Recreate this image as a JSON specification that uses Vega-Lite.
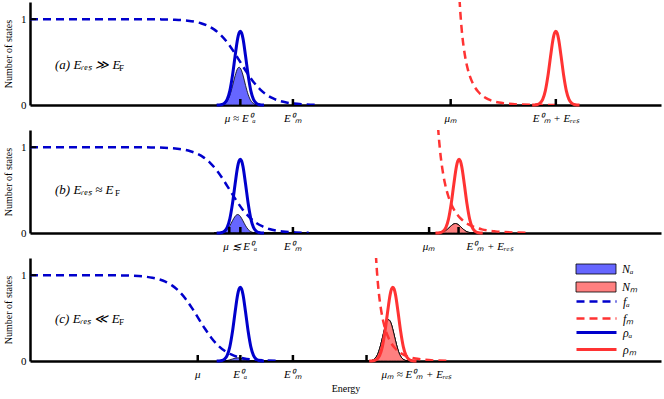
{
  "$schema": "https://vega.github.io/schema/vega-lite/v6.json",
  "padding": {"left": 3, "top": 2, "right": 3, "bottom": 2},
  "bounds": "flush",
  "spacing": 25,
  "config": {
    "view": {"stroke": null},
    "font": "Liberation Serif",
    "axis": {"grid": false, "domainColor": "black", "domainWidth": 2.5, "zindex": 1, "labelColor": "black", "titleColor": "black", "titleFontWeight": "normal", "labelFont": "Liberation Serif", "titleFont": "Liberation Serif"},
    "legend": {"padding": 0, "offset": 0, "labelFont": "Liberation Serif", "labelFontStyle": "italic", "labelFontSize": 12, "labelColor": "black", "labelOffset": 20, "rowPadding": 4}
  },
  "datasets": {
    "c": [
      {"p":"a","s":"fₐ","E":0,"v":1},{"p":"a","s":"fₐ","E":1.5,"v":1},{"p":"a","s":"fₐ","E":2,"v":0.9997},{"p":"a","s":"fₐ","E":2.5,"v":0.9975},{"p":"a","s":"fₐ","E":2.75,"v":0.9933},{"p":"a","s":"fₐ","E":3,"v":0.982},{"p":"a","s":"fₐ","E":3.125,"v":0.9707},{"p":"a","s":"fₐ","E":3.25,"v":0.9526},{"p":"a","s":"fₐ","E":3.375,"v":0.924},{"p":"a","s":"fₐ","E":3.5,"v":0.881},{"p":"a","s":"fₐ","E":3.625,"v":0.818},{"p":"a","s":"fₐ","E":3.75,"v":0.731},{"p":"a","s":"fₐ","E":3.875,"v":0.622},{"p":"a","s":"fₐ","E":4,"v":0.5},{"p":"a","s":"fₐ","E":4.125,"v":0.378},{"p":"a","s":"fₐ","E":4.25,"v":0.269},{"p":"a","s":"fₐ","E":4.375,"v":0.182},{"p":"a","s":"fₐ","E":4.5,"v":0.119},{"p":"a","s":"fₐ","E":4.625,"v":0.076},{"p":"a","s":"fₐ","E":4.75,"v":0.047},{"p":"a","s":"fₐ","E":4.875,"v":0.029},{"p":"a","s":"fₐ","E":5,"v":0.018},{"p":"a","s":"fₐ","E":5.25,"v":0.0067},{"p":"a","s":"fₐ","E":5.5,"v":0.0025},
      {"p":"b","s":"fₐ","E":0,"v":1},{"p":"b","s":"fₐ","E":1.3,"v":1},{"p":"b","s":"fₐ","E":1.8,"v":0.9997},{"p":"b","s":"fₐ","E":2.3,"v":0.9975},{"p":"b","s":"fₐ","E":2.55,"v":0.9933},{"p":"b","s":"fₐ","E":2.8,"v":0.982},{"p":"b","s":"fₐ","E":2.925,"v":0.9707},{"p":"b","s":"fₐ","E":3.05,"v":0.9526},{"p":"b","s":"fₐ","E":3.175,"v":0.924},{"p":"b","s":"fₐ","E":3.3,"v":0.881},{"p":"b","s":"fₐ","E":3.425,"v":0.818},{"p":"b","s":"fₐ","E":3.55,"v":0.731},{"p":"b","s":"fₐ","E":3.675,"v":0.622},{"p":"b","s":"fₐ","E":3.8,"v":0.5},{"p":"b","s":"fₐ","E":3.925,"v":0.378},{"p":"b","s":"fₐ","E":4.05,"v":0.269},{"p":"b","s":"fₐ","E":4.175,"v":0.182},{"p":"b","s":"fₐ","E":4.3,"v":0.119},{"p":"b","s":"fₐ","E":4.425,"v":0.076},{"p":"b","s":"fₐ","E":4.55,"v":0.047},{"p":"b","s":"fₐ","E":4.675,"v":0.029},{"p":"b","s":"fₐ","E":4.8,"v":0.018},{"p":"b","s":"fₐ","E":5.05,"v":0.0067},{"p":"b","s":"fₐ","E":5.3,"v":0.0025},
      {"p":"c","s":"fₐ","E":0,"v":1},{"p":"c","s":"fₐ","E":0.7,"v":1},{"p":"c","s":"fₐ","E":1.2,"v":0.9997},{"p":"c","s":"fₐ","E":1.7,"v":0.9975},{"p":"c","s":"fₐ","E":1.95,"v":0.9933},{"p":"c","s":"fₐ","E":2.2,"v":0.982},{"p":"c","s":"fₐ","E":2.325,"v":0.9707},{"p":"c","s":"fₐ","E":2.45,"v":0.9526},{"p":"c","s":"fₐ","E":2.575,"v":0.924},{"p":"c","s":"fₐ","E":2.7,"v":0.881},{"p":"c","s":"fₐ","E":2.825,"v":0.818},{"p":"c","s":"fₐ","E":2.95,"v":0.731},{"p":"c","s":"fₐ","E":3.075,"v":0.622},{"p":"c","s":"fₐ","E":3.2,"v":0.5},{"p":"c","s":"fₐ","E":3.325,"v":0.378},{"p":"c","s":"fₐ","E":3.45,"v":0.269},{"p":"c","s":"fₐ","E":3.575,"v":0.182},{"p":"c","s":"fₐ","E":3.7,"v":0.119},{"p":"c","s":"fₐ","E":3.825,"v":0.076},{"p":"c","s":"fₐ","E":3.95,"v":0.047},{"p":"c","s":"fₐ","E":4.075,"v":0.029},{"p":"c","s":"fₐ","E":4.2,"v":0.018},{"p":"c","s":"fₐ","E":4.45,"v":0.0067},{"p":"c","s":"fₐ","E":4.7,"v":0.0025},
      {"p":"a","s":"fₘ","E":8.145,"v":1.54},{"p":"a","s":"fₘ","E":8.17,"v":1.216},{"p":"a","s":"fₘ","E":8.195,"v":0.986},{"p":"a","s":"fₘ","E":8.22,"v":0.816},{"p":"a","s":"fₘ","E":8.245,"v":0.685},{"p":"a","s":"fₘ","E":8.27,"v":0.582},{"p":"a","s":"fₘ","E":8.32,"v":0.431},{"p":"a","s":"fₘ","E":8.37,"v":0.327},{"p":"a","s":"fₘ","E":8.42,"v":0.253},{"p":"a","s":"fₘ","E":8.47,"v":0.198},{"p":"a","s":"fₘ","E":8.52,"v":0.157},{"p":"a","s":"fₘ","E":8.62,"v":0.1},{"p":"a","s":"fₘ","E":8.72,"v":0.065},{"p":"a","s":"fₘ","E":8.82,"v":0.0425},{"p":"a","s":"fₘ","E":8.92,"v":0.028},{"p":"a","s":"fₘ","E":9.02,"v":0.019},{"p":"a","s":"fₘ","E":9.27,"v":0.0068},{"p":"a","s":"fₘ","E":9.52,"v":0.0025},{"p":"a","s":"fₘ","E":10.02,"v":0.0003},
      {"p":"b","s":"fₘ","E":7.73,"v":1.54},{"p":"b","s":"fₘ","E":7.762,"v":1.216},{"p":"b","s":"fₘ","E":7.794,"v":0.986},{"p":"b","s":"fₘ","E":7.826,"v":0.816},{"p":"b","s":"fₘ","E":7.858,"v":0.685},{"p":"b","s":"fₘ","E":7.89,"v":0.582},{"p":"b","s":"fₘ","E":7.954,"v":0.431},{"p":"b","s":"fₘ","E":8.018,"v":0.327},{"p":"b","s":"fₘ","E":8.082,"v":0.253},{"p":"b","s":"fₘ","E":8.146,"v":0.198},{"p":"b","s":"fₘ","E":8.21,"v":0.157},{"p":"b","s":"fₘ","E":8.338,"v":0.1},{"p":"b","s":"fₘ","E":8.466,"v":0.065},{"p":"b","s":"fₘ","E":8.594,"v":0.0425},{"p":"b","s":"fₘ","E":8.722,"v":0.028},{"p":"b","s":"fₘ","E":8.85,"v":0.019},{"p":"b","s":"fₘ","E":9.17,"v":0.0068},{"p":"b","s":"fₘ","E":9.49,"v":0.0025},
      {"p":"c","s":"fₘ","E":6.555,"v":1.54},{"p":"c","s":"fₘ","E":6.58,"v":1.216},{"p":"c","s":"fₘ","E":6.605,"v":0.986},{"p":"c","s":"fₘ","E":6.63,"v":0.816},{"p":"c","s":"fₘ","E":6.655,"v":0.685},{"p":"c","s":"fₘ","E":6.68,"v":0.582},{"p":"c","s":"fₘ","E":6.73,"v":0.431},{"p":"c","s":"fₘ","E":6.78,"v":0.327},{"p":"c","s":"fₘ","E":6.83,"v":0.253},{"p":"c","s":"fₘ","E":6.88,"v":0.198},{"p":"c","s":"fₘ","E":6.93,"v":0.157},{"p":"c","s":"fₘ","E":7.03,"v":0.1},{"p":"c","s":"fₘ","E":7.13,"v":0.065},{"p":"c","s":"fₘ","E":7.23,"v":0.0425},{"p":"c","s":"fₘ","E":7.33,"v":0.028},{"p":"c","s":"fₘ","E":7.43,"v":0.019},{"p":"c","s":"fₘ","E":7.68,"v":0.0068},{"p":"c","s":"fₘ","E":7.93,"v":0.0025},
      {"p":"a","s":"ρₐ","E":3.55,"v":0},{"p":"a","s":"ρₐ","E":3.6,"v":0.001},{"p":"a","s":"ρₐ","E":3.65,"v":0.006},{"p":"a","s":"ρₐ","E":3.7,"v":0.021},{"p":"a","s":"ρₐ","E":3.75,"v":0.065},{"p":"a","s":"ρₐ","E":3.8,"v":0.164},{"p":"a","s":"ρₐ","E":3.85,"v":0.34},{"p":"a","s":"ρₐ","E":3.9,"v":0.568},{"p":"a","s":"ρₐ","E":3.95,"v":0.776},{"p":"a","s":"ρₐ","E":3.975,"v":0.838},{"p":"a","s":"ρₐ","E":4,"v":0.86},{"p":"a","s":"ρₐ","E":4.025,"v":0.838},{"p":"a","s":"ρₐ","E":4.05,"v":0.776},{"p":"a","s":"ρₐ","E":4.1,"v":0.568},{"p":"a","s":"ρₐ","E":4.15,"v":0.34},{"p":"a","s":"ρₐ","E":4.2,"v":0.164},{"p":"a","s":"ρₐ","E":4.25,"v":0.065},{"p":"a","s":"ρₐ","E":4.3,"v":0.021},{"p":"a","s":"ρₐ","E":4.35,"v":0.006},{"p":"a","s":"ρₐ","E":4.4,"v":0.001},{"p":"a","s":"ρₐ","E":4.45,"v":0},
      {"p":"b","s":"ρₐ","E":3.55,"v":0},{"p":"b","s":"ρₐ","E":3.6,"v":0.001},{"p":"b","s":"ρₐ","E":3.65,"v":0.006},{"p":"b","s":"ρₐ","E":3.7,"v":0.021},{"p":"b","s":"ρₐ","E":3.75,"v":0.065},{"p":"b","s":"ρₐ","E":3.8,"v":0.164},{"p":"b","s":"ρₐ","E":3.85,"v":0.34},{"p":"b","s":"ρₐ","E":3.9,"v":0.568},{"p":"b","s":"ρₐ","E":3.95,"v":0.776},{"p":"b","s":"ρₐ","E":3.975,"v":0.838},{"p":"b","s":"ρₐ","E":4,"v":0.86},{"p":"b","s":"ρₐ","E":4.025,"v":0.838},{"p":"b","s":"ρₐ","E":4.05,"v":0.776},{"p":"b","s":"ρₐ","E":4.1,"v":0.568},{"p":"b","s":"ρₐ","E":4.15,"v":0.34},{"p":"b","s":"ρₐ","E":4.2,"v":0.164},{"p":"b","s":"ρₐ","E":4.25,"v":0.065},{"p":"b","s":"ρₐ","E":4.3,"v":0.021},{"p":"b","s":"ρₐ","E":4.35,"v":0.006},{"p":"b","s":"ρₐ","E":4.4,"v":0.001},{"p":"b","s":"ρₐ","E":4.45,"v":0},
      {"p":"c","s":"ρₐ","E":3.55,"v":0},{"p":"c","s":"ρₐ","E":3.6,"v":0.001},{"p":"c","s":"ρₐ","E":3.65,"v":0.006},{"p":"c","s":"ρₐ","E":3.7,"v":0.021},{"p":"c","s":"ρₐ","E":3.75,"v":0.065},{"p":"c","s":"ρₐ","E":3.8,"v":0.164},{"p":"c","s":"ρₐ","E":3.85,"v":0.34},{"p":"c","s":"ρₐ","E":3.9,"v":0.568},{"p":"c","s":"ρₐ","E":3.95,"v":0.776},{"p":"c","s":"ρₐ","E":3.975,"v":0.838},{"p":"c","s":"ρₐ","E":4,"v":0.86},{"p":"c","s":"ρₐ","E":4.025,"v":0.838},{"p":"c","s":"ρₐ","E":4.05,"v":0.776},{"p":"c","s":"ρₐ","E":4.1,"v":0.568},{"p":"c","s":"ρₐ","E":4.15,"v":0.34},{"p":"c","s":"ρₐ","E":4.2,"v":0.164},{"p":"c","s":"ρₐ","E":4.25,"v":0.065},{"p":"c","s":"ρₐ","E":4.3,"v":0.021},{"p":"c","s":"ρₐ","E":4.35,"v":0.006},{"p":"c","s":"ρₐ","E":4.4,"v":0.001},{"p":"c","s":"ρₐ","E":4.45,"v":0},
      {"p":"a","s":"ρₘ","E":9.55,"v":0},{"p":"a","s":"ρₘ","E":9.6,"v":0.001},{"p":"a","s":"ρₘ","E":9.65,"v":0.006},{"p":"a","s":"ρₘ","E":9.7,"v":0.021},{"p":"a","s":"ρₘ","E":9.75,"v":0.065},{"p":"a","s":"ρₘ","E":9.8,"v":0.164},{"p":"a","s":"ρₘ","E":9.85,"v":0.34},{"p":"a","s":"ρₘ","E":9.9,"v":0.568},{"p":"a","s":"ρₘ","E":9.95,"v":0.776},{"p":"a","s":"ρₘ","E":9.975,"v":0.838},{"p":"a","s":"ρₘ","E":10,"v":0.86},{"p":"a","s":"ρₘ","E":10.025,"v":0.838},{"p":"a","s":"ρₘ","E":10.05,"v":0.776},{"p":"a","s":"ρₘ","E":10.1,"v":0.568},{"p":"a","s":"ρₘ","E":10.15,"v":0.34},{"p":"a","s":"ρₘ","E":10.2,"v":0.164},{"p":"a","s":"ρₘ","E":10.25,"v":0.065},{"p":"a","s":"ρₘ","E":10.3,"v":0.021},{"p":"a","s":"ρₘ","E":10.35,"v":0.006},{"p":"a","s":"ρₘ","E":10.4,"v":0.001},{"p":"a","s":"ρₘ","E":10.45,"v":0},
      {"p":"b","s":"ρₘ","E":7.71,"v":0},{"p":"b","s":"ρₘ","E":7.76,"v":0.001},{"p":"b","s":"ρₘ","E":7.81,"v":0.006},{"p":"b","s":"ρₘ","E":7.86,"v":0.021},{"p":"b","s":"ρₘ","E":7.91,"v":0.065},{"p":"b","s":"ρₘ","E":7.96,"v":0.164},{"p":"b","s":"ρₘ","E":8.01,"v":0.34},{"p":"b","s":"ρₘ","E":8.06,"v":0.568},{"p":"b","s":"ρₘ","E":8.11,"v":0.776},{"p":"b","s":"ρₘ","E":8.135,"v":0.838},{"p":"b","s":"ρₘ","E":8.16,"v":0.86},{"p":"b","s":"ρₘ","E":8.185,"v":0.838},{"p":"b","s":"ρₘ","E":8.21,"v":0.776},{"p":"b","s":"ρₘ","E":8.26,"v":0.568},{"p":"b","s":"ρₘ","E":8.31,"v":0.34},{"p":"b","s":"ρₘ","E":8.36,"v":0.164},{"p":"b","s":"ρₘ","E":8.41,"v":0.065},{"p":"b","s":"ρₘ","E":8.46,"v":0.021},{"p":"b","s":"ρₘ","E":8.51,"v":0.006},{"p":"b","s":"ρₘ","E":8.56,"v":0.001},{"p":"b","s":"ρₘ","E":8.61,"v":0},
      {"p":"c","s":"ρₘ","E":6.45,"v":0},{"p":"c","s":"ρₘ","E":6.5,"v":0.001},{"p":"c","s":"ρₘ","E":6.55,"v":0.006},{"p":"c","s":"ρₘ","E":6.6,"v":0.021},{"p":"c","s":"ρₘ","E":6.65,"v":0.065},{"p":"c","s":"ρₘ","E":6.7,"v":0.164},{"p":"c","s":"ρₘ","E":6.75,"v":0.34},{"p":"c","s":"ρₘ","E":6.8,"v":0.568},{"p":"c","s":"ρₘ","E":6.85,"v":0.776},{"p":"c","s":"ρₘ","E":6.875,"v":0.838},{"p":"c","s":"ρₘ","E":6.9,"v":0.86},{"p":"c","s":"ρₘ","E":6.925,"v":0.838},{"p":"c","s":"ρₘ","E":6.95,"v":0.776},{"p":"c","s":"ρₘ","E":7,"v":0.568},{"p":"c","s":"ρₘ","E":7.05,"v":0.34},{"p":"c","s":"ρₘ","E":7.1,"v":0.164},{"p":"c","s":"ρₘ","E":7.15,"v":0.065},{"p":"c","s":"ρₘ","E":7.2,"v":0.021},{"p":"c","s":"ρₘ","E":7.25,"v":0.006},{"p":"c","s":"ρₘ","E":7.3,"v":0.001},{"p":"c","s":"ρₘ","E":7.35,"v":0},
      {"p":"a","s":"Nₐ","E":3.55,"v":0},{"p":"a","s":"Nₐ","E":3.6,"v":0.001},{"p":"a","s":"Nₐ","E":3.65,"v":0.0044},{"p":"a","s":"Nₐ","E":3.7,"v":0.016},{"p":"a","s":"Nₐ","E":3.75,"v":0.0475},{"p":"a","s":"Nₐ","E":3.8,"v":0.113},{"p":"a","s":"Nₐ","E":3.85,"v":0.22},{"p":"a","s":"Nₐ","E":3.9,"v":0.34},{"p":"a","s":"Nₐ","E":3.95,"v":0.427},{"p":"a","s":"Nₐ","E":3.975,"v":0.44},{"p":"a","s":"Nₐ","E":4,"v":0.43},{"p":"a","s":"Nₐ","E":4.025,"v":0.398},{"p":"a","s":"Nₐ","E":4.05,"v":0.349},{"p":"a","s":"Nₐ","E":4.1,"v":0.228},{"p":"a","s":"Nₐ","E":4.15,"v":0.12},{"p":"a","s":"Nₐ","E":4.2,"v":0.051},{"p":"a","s":"Nₐ","E":4.25,"v":0.0175},{"p":"a","s":"Nₐ","E":4.3,"v":0.0049},{"p":"a","s":"Nₐ","E":4.35,"v":0.0011},{"p":"a","s":"Nₐ","E":4.4,"v":0},
      {"p":"b","s":"Nₐ","E":3.5,"v":0},{"p":"b","s":"Nₐ","E":3.55,"v":0.0003},{"p":"b","s":"Nₐ","E":3.6,"v":0.0014},{"p":"b","s":"Nₐ","E":3.65,"v":0.005},{"p":"b","s":"Nₐ","E":3.7,"v":0.016},{"p":"b","s":"Nₐ","E":3.75,"v":0.041},{"p":"b","s":"Nₐ","E":3.8,"v":0.085},{"p":"b","s":"Nₐ","E":3.85,"v":0.142},{"p":"b","s":"Nₐ","E":3.9,"v":0.194},{"p":"b","s":"Nₐ","E":3.925,"v":0.2095},{"p":"b","s":"Nₐ","E":3.95,"v":0.215},{"p":"b","s":"Nₐ","E":3.975,"v":0.2095},{"p":"b","s":"Nₐ","E":4,"v":0.194},{"p":"b","s":"Nₐ","E":4.05,"v":0.142},{"p":"b","s":"Nₐ","E":4.1,"v":0.085},{"p":"b","s":"Nₐ","E":4.15,"v":0.041},{"p":"b","s":"Nₐ","E":4.2,"v":0.016},{"p":"b","s":"Nₐ","E":4.25,"v":0.005},{"p":"b","s":"Nₐ","E":4.3,"v":0.0014},{"p":"b","s":"Nₐ","E":4.35,"v":0.0003},{"p":"b","s":"Nₐ","E":4.4,"v":0},
      {"p":"c","s":"Nₐ","E":3.6,"v":0},{"p":"c","s":"Nₐ","E":3.65,"v":0.0008},{"p":"c","s":"Nₐ","E":3.7,"v":0.0025},{"p":"c","s":"Nₐ","E":3.75,"v":0.0065},{"p":"c","s":"Nₐ","E":3.8,"v":0.0136},{"p":"c","s":"Nₐ","E":3.85,"v":0.0235},{"p":"c","s":"Nₐ","E":3.9,"v":0.0326},{"p":"c","s":"Nₐ","E":3.95,"v":0.0368},{"p":"c","s":"Nₐ","E":4,"v":0.0337},{"p":"c","s":"Nₐ","E":4.05,"v":0.0249},{"p":"c","s":"Nₐ","E":4.1,"v":0.0151},{"p":"c","s":"Nₐ","E":4.15,"v":0.0074},{"p":"c","s":"Nₐ","E":4.2,"v":0.003},{"p":"c","s":"Nₐ","E":4.25,"v":0.001},{"p":"c","s":"Nₐ","E":4.3,"v":0},
      {"p":"b","s":"Nₘ","E":7.69,"v":0},{"p":"b","s":"Nₘ","E":7.74,"v":0.0007},{"p":"b","s":"Nₘ","E":7.79,"v":0.0027},{"p":"b","s":"Nₘ","E":7.84,"v":0.0083},{"p":"b","s":"Nₘ","E":7.89,"v":0.021},{"p":"b","s":"Nₘ","E":7.94,"v":0.0435},{"p":"b","s":"Nₘ","E":7.99,"v":0.073},{"p":"b","s":"Nₘ","E":8.04,"v":0.099},{"p":"b","s":"Nₘ","E":8.09,"v":0.11},{"p":"b","s":"Nₘ","E":8.14,"v":0.099},{"p":"b","s":"Nₘ","E":8.19,"v":0.073},{"p":"b","s":"Nₘ","E":8.24,"v":0.0435},{"p":"b","s":"Nₘ","E":8.29,"v":0.021},{"p":"b","s":"Nₘ","E":8.34,"v":0.0083},{"p":"b","s":"Nₘ","E":8.39,"v":0.0027},{"p":"b","s":"Nₘ","E":8.44,"v":0.0007},{"p":"b","s":"Nₘ","E":8.49,"v":0},
      {"p":"c","s":"Nₘ","E":6.41,"v":0},{"p":"c","s":"Nₘ","E":6.42,"v":0.0007},{"p":"c","s":"Nₘ","E":6.47,"v":0.0031},{"p":"c","s":"Nₘ","E":6.52,"v":0.0117},{"p":"c","s":"Nₘ","E":6.57,"v":0.036},{"p":"c","s":"Nₘ","E":6.62,"v":0.0915},{"p":"c","s":"Nₘ","E":6.67,"v":0.19},{"p":"c","s":"Nₘ","E":6.72,"v":0.317},{"p":"c","s":"Nₘ","E":6.77,"v":0.433},{"p":"c","s":"Nₘ","E":6.795,"v":0.468},{"p":"c","s":"Nₘ","E":6.82,"v":0.48},{"p":"c","s":"Nₘ","E":6.845,"v":0.468},{"p":"c","s":"Nₘ","E":6.87,"v":0.433},{"p":"c","s":"Nₘ","E":6.92,"v":0.317},{"p":"c","s":"Nₘ","E":6.97,"v":0.19},{"p":"c","s":"Nₘ","E":7.02,"v":0.0915},{"p":"c","s":"Nₘ","E":7.07,"v":0.036},{"p":"c","s":"Nₘ","E":7.12,"v":0.0117},{"p":"c","s":"Nₘ","E":7.17,"v":0.0031},{"p":"c","s":"Nₘ","E":7.22,"v":0.0007},{"p":"c","s":"Nₘ","E":7.27,"v":0}
    ],
    "tk": [
      {"p":"a","E":4},{"p":"a","E":5},{"p":"a","E":8},{"p":"a","E":10},
      {"p":"b","E":3.79},{"p":"b","E":4},{"p":"b","E":5},{"p":"b","E":7.59},{"p":"b","E":8.15},
      {"p":"c","E":3.19},{"p":"c","E":4},{"p":"c","E":5},{"p":"c","E":6.4}
    ],
    "lb": [
      {"p":"a","E":4,"t":"μ ≈ E⁰ₐ"},{"p":"a","E":5,"t":"E⁰ₘ"},{"p":"a","E":8,"t":"μₘ"},{"p":"a","E":10,"t":"E⁰ₘ + Eᵣₑₛ"},
      {"p":"b","E":4,"t":"μ ≲ E⁰ₐ"},{"p":"b","E":5,"t":"E⁰ₘ"},{"p":"b","E":7.59,"t":"μₘ"},{"p":"b","E":8.74,"t":"E⁰ₘ + Eᵣₑₛ"},
      {"p":"c","E":3.19,"t":"μ"},{"p":"c","E":4,"t":"E⁰ₐ"},{"p":"c","E":5,"t":"E⁰ₘ"},{"p":"c","E":7.35,"t":"μₘ ≈ E⁰ₘ + Eᵣₑₛ"}
    ],
    "pl": [
      {"p":"a","E":0.475,"v":0.47,"t":"(a) Eᵣₑₛ ≫ E"},
      {"p":"b","E":0.475,"v":0.5,"t":"(b) Eᵣₑₛ ≈ E"},
      {"p":"c","E":0.475,"v":0.49,"t":"(c) Eᵣₑₛ ≪ E"}
    ],
    "yt": [{"v":1}]
  },
  "vconcat": [
    {
      "width": 631, "height": 103,
      "layer": [
        {"data": {"name": "c"}, "transform": [{"filter": {"and": [{"field":"p","equal":"a"},{"field":"s","oneOf":["Nₐ","Nₘ"]}]}}],
         "mark": {"type":"area","interpolate":"monotone","stroke":"black","strokeWidth":0.8,"opacity":1},
         "encoding": {
           "x": {"field":"E","type":"quantitative","scale":{"domain":[0,12],"nice":false},"axis":{"labels":false,"ticks":false,"title":null}},
           "y": {"field":"v","type":"quantitative","scale":{"domain":[0,1.2],"nice":false},"axis":{"values":[0,1],"format":"d","ticks":false,"labelFontSize":11,"labelPadding":4,"title":"Number of states","titleFontSize":10,"titlePadding":7}},
           "fill": {"field":"s","type":"nominal","scale":{"domain":["Nₐ","Nₘ"],"range":["#6666ff","#ff8080"]},"legend":{"orient":"none","legendX":560,"legendY":261,"title":null,"symbolType":"M-4,-1H4V1H-4Z","symbolSize":100,"symbolStrokeColor":"black","symbolStrokeWidth":0.8,"symbolOpacity":1}}
         }},
        {"data": {"name": "c"}, "transform": [{"filter": {"and": [{"field":"p","equal":"a"},{"field":"s","oneOf":["fₐ","fₘ"]}]}}],
         "mark": {"type":"line","interpolate":"monotone","strokeWidth":2.5,"strokeDash":[8,5],"clip":true},
         "encoding": {
           "x": {"field":"E","type":"quantitative"},
           "y": {"field":"v","type":"quantitative"},
           "stroke": {"field":"s","type":"nominal","scale":{"domain":["fₐ","fₘ"],"range":["#0000cc","#ff3333"]},"legend":{"orient":"none","legendX":560,"legendY":293,"title":null,"symbolType":"M-4,0H4","symbolSize":100,"symbolStrokeWidth":2.5,"symbolDash":[8,5],"symbolFillColor":"transparent"}}
         }},
        {"data": {"name": "c"}, "transform": [{"filter": {"and": [{"field":"p","equal":"a"},{"field":"s","oneOf":["ρₐ","ρₘ"]}]}}],
         "mark": {"type":"line","interpolate":"monotone","strokeWidth":3},
         "encoding": {
           "x": {"field":"E","type":"quantitative"},
           "y": {"field":"v","type":"quantitative"},
           "color": {"field":"s","type":"nominal","scale":{"domain":["ρₐ","ρₘ"],"range":["#0000cc","#ff3333"]},"legend":{"orient":"none","legendX":560,"legendY":324,"title":null,"symbolType":"M-4,0H4","symbolSize":100,"symbolStrokeWidth":3,"symbolFillColor":"transparent"}}
         }},
        {"data": {"name": "tk"}, "transform": [{"filter": {"field":"p","equal":"a"}}],
         "mark": {"type":"rule","color":"black","strokeWidth":2.5},
         "encoding": {"x": {"field":"E","type":"quantitative"}, "y": {"datum": 0}, "y2": {"datum": 0.07}}},
        {"data": {"name": "lb"}, "transform": [{"filter": {"field":"p","equal":"a"}}],
         "mark": {"type":"text","fontSize":11,"fontStyle":"italic","baseline":"middle","dy":14,"color":"black"},
         "encoding": {"x": {"field":"E","type":"quantitative"}, "y": {"datum": 0}, "text": {"field":"t"}}},
        {"data": {"name": "yt"},
         "mark": {"type":"rule","color":"black","strokeWidth":2},
         "encoding": {"x": {"datum": 0}, "x2": {"datum": 0.12}, "y": {"field":"v","type":"quantitative"}}},
        {"data": {"name": "pl"}, "transform": [{"filter": {"field":"p","equal":"a"}}],
         "mark": {"type":"text","fontSize":13,"fontStyle":"italic","align":"left","baseline":"middle","color":"black"},
         "encoding": {"x": {"field":"E","type":"quantitative"}, "y": {"field":"v","type":"quantitative"}, "text": {"field":"t"}}},
        {"data": {"name": "pl"}, "transform": [{"filter": {"field":"p","equal":"a"}}],
         "mark": {"type":"text","fontSize":9,"align":"left","baseline":"middle","dx":64,"dy":3,"color":"black","text":"F"},
         "encoding": {"x": {"field":"E","type":"quantitative"}, "y": {"field":"v","type":"quantitative"}}}
      ]
    },
    {
      "width": 631, "height": 103,
      "layer": [
        {"data": {"name": "c"}, "transform": [{"filter": {"and": [{"field":"p","equal":"b"},{"field":"s","oneOf":["Nₐ","Nₘ"]}]}}],
         "mark": {"type":"area","interpolate":"monotone","stroke":"black","strokeWidth":0.8,"opacity":1},
         "encoding": {
           "x": {"field":"E","type":"quantitative","scale":{"domain":[0,12],"nice":false},"axis":{"labels":false,"ticks":false,"title":null}},
           "y": {"field":"v","type":"quantitative","scale":{"domain":[0,1.2],"nice":false},"axis":{"values":[0,1],"format":"d","ticks":false,"labelFontSize":11,"labelPadding":4,"title":"Number of states","titleFontSize":10,"titlePadding":7}},
           "fill": {"field":"s","type":"nominal","scale":{"domain":["Nₐ","Nₘ"],"range":["#6666ff","#ff8080"]},"legend":{"orient":"none","legendX":560,"legendY":261,"title":null,"symbolType":"M-4,-1H4V1H-4Z","symbolSize":100,"symbolStrokeColor":"black","symbolStrokeWidth":0.8,"symbolOpacity":1}}
         }},
        {"data": {"name": "c"}, "transform": [{"filter": {"and": [{"field":"p","equal":"b"},{"field":"s","oneOf":["fₐ","fₘ"]}]}}],
         "mark": {"type":"line","interpolate":"monotone","strokeWidth":2.5,"strokeDash":[8,5],"clip":true},
         "encoding": {
           "x": {"field":"E","type":"quantitative"},
           "y": {"field":"v","type":"quantitative"},
           "stroke": {"field":"s","type":"nominal","scale":{"domain":["fₐ","fₘ"],"range":["#0000cc","#ff3333"]},"legend":{"orient":"none","legendX":560,"legendY":293,"title":null,"symbolType":"M-4,0H4","symbolSize":100,"symbolStrokeWidth":2.5,"symbolDash":[8,5],"symbolFillColor":"transparent"}}
         }},
        {"data": {"name": "c"}, "transform": [{"filter": {"and": [{"field":"p","equal":"b"},{"field":"s","oneOf":["ρₐ","ρₘ"]}]}}],
         "mark": {"type":"line","interpolate":"monotone","strokeWidth":3},
         "encoding": {
           "x": {"field":"E","type":"quantitative"},
           "y": {"field":"v","type":"quantitative"},
           "color": {"field":"s","type":"nominal","scale":{"domain":["ρₐ","ρₘ"],"range":["#0000cc","#ff3333"]},"legend":{"orient":"none","legendX":560,"legendY":324,"title":null,"symbolType":"M-4,0H4","symbolSize":100,"symbolStrokeWidth":3,"symbolFillColor":"transparent"}}
         }},
        {"data": {"name": "tk"}, "transform": [{"filter": {"field":"p","equal":"b"}}],
         "mark": {"type":"rule","color":"black","strokeWidth":2.5},
         "encoding": {"x": {"field":"E","type":"quantitative"}, "y": {"datum": 0}, "y2": {"datum": 0.07}}},
        {"data": {"name": "lb"}, "transform": [{"filter": {"field":"p","equal":"b"}}],
         "mark": {"type":"text","fontSize":11,"fontStyle":"italic","baseline":"middle","dy":14,"color":"black"},
         "encoding": {"x": {"field":"E","type":"quantitative"}, "y": {"datum": 0}, "text": {"field":"t"}}},
        {"data": {"name": "yt"},
         "mark": {"type":"rule","color":"black","strokeWidth":2},
         "encoding": {"x": {"datum": 0}, "x2": {"datum": 0.12}, "y": {"field":"v","type":"quantitative"}}},
        {"data": {"name": "pl"}, "transform": [{"filter": {"field":"p","equal":"b"}}],
         "mark": {"type":"text","fontSize":13,"fontStyle":"italic","align":"left","baseline":"middle","color":"black"},
         "encoding": {"x": {"field":"E","type":"quantitative"}, "y": {"field":"v","type":"quantitative"}, "text": {"field":"t"}}},
        {"data": {"name": "pl"}, "transform": [{"filter": {"field":"p","equal":"b"}}],
         "mark": {"type":"text","fontSize":9,"align":"left","baseline":"middle","dx":60,"dy":3,"color":"black","text":"F"},
         "encoding": {"x": {"field":"E","type":"quantitative"}, "y": {"field":"v","type":"quantitative"}}}
      ]
    },
    {
      "width": 631, "height": 103,
      "layer": [
        {"data": {"name": "c"}, "transform": [{"filter": {"and": [{"field":"p","equal":"c"},{"field":"s","oneOf":["Nₐ","Nₘ"]}]}}],
         "mark": {"type":"area","interpolate":"monotone","stroke":"black","strokeWidth":0.8,"opacity":1},
         "encoding": {
           "x": {"field":"E","type":"quantitative","scale":{"domain":[0,12],"nice":false},"axis":{"labels":false,"ticks":false,"title":"Energy","titleFontSize":10,"titlePadding":22}},
           "y": {"field":"v","type":"quantitative","scale":{"domain":[0,1.2],"nice":false},"axis":{"values":[0,1],"format":"d","ticks":false,"labelFontSize":11,"labelPadding":4,"title":"Number of states","titleFontSize":10,"titlePadding":7}},
           "fill": {"field":"s","type":"nominal","scale":{"domain":["Nₐ","Nₘ"],"range":["#6666ff","#ff8080"]},"legend":{"orient":"none","legendX":560,"legendY":261,"title":null,"symbolType":"M-4,-1H4V1H-4Z","symbolSize":100,"symbolStrokeColor":"black","symbolStrokeWidth":0.8,"symbolOpacity":1}}
         }},
        {"data": {"name": "c"}, "transform": [{"filter": {"and": [{"field":"p","equal":"c"},{"field":"s","oneOf":["fₐ","fₘ"]}]}}],
         "mark": {"type":"line","interpolate":"monotone","strokeWidth":2.5,"strokeDash":[8,5],"clip":true},
         "encoding": {
           "x": {"field":"E","type":"quantitative"},
           "y": {"field":"v","type":"quantitative"},
           "stroke": {"field":"s","type":"nominal","scale":{"domain":["fₐ","fₘ"],"range":["#0000cc","#ff3333"]},"legend":{"orient":"none","legendX":560,"legendY":293,"title":null,"symbolType":"M-4,0H4","symbolSize":100,"symbolStrokeWidth":2.5,"symbolDash":[8,5],"symbolFillColor":"transparent"}}
         }},
        {"data": {"name": "c"}, "transform": [{"filter": {"and": [{"field":"p","equal":"c"},{"field":"s","oneOf":["ρₐ","ρₘ"]}]}}],
         "mark": {"type":"line","interpolate":"monotone","strokeWidth":3},
         "encoding": {
           "x": {"field":"E","type":"quantitative"},
           "y": {"field":"v","type":"quantitative"},
           "color": {"field":"s","type":"nominal","scale":{"domain":["ρₐ","ρₘ"],"range":["#0000cc","#ff3333"]},"legend":{"orient":"none","legendX":560,"legendY":324,"title":null,"symbolType":"M-4,0H4","symbolSize":100,"symbolStrokeWidth":3,"symbolFillColor":"transparent"}}
         }},
        {"data": {"name": "tk"}, "transform": [{"filter": {"field":"p","equal":"c"}}],
         "mark": {"type":"rule","color":"black","strokeWidth":2.5},
         "encoding": {"x": {"field":"E","type":"quantitative"}, "y": {"datum": 0}, "y2": {"datum": 0.07}}},
        {"data": {"name": "lb"}, "transform": [{"filter": {"field":"p","equal":"c"}}],
         "mark": {"type":"text","fontSize":11,"fontStyle":"italic","baseline":"middle","dy":14,"color":"black"},
         "encoding": {"x": {"field":"E","type":"quantitative"}, "y": {"datum": 0}, "text": {"field":"t"}}},
        {"data": {"name": "yt"},
         "mark": {"type":"rule","color":"black","strokeWidth":2},
         "encoding": {"x": {"datum": 0}, "x2": {"datum": 0.12}, "y": {"field":"v","type":"quantitative"}}},
        {"data": {"name": "pl"}, "transform": [{"filter": {"field":"p","equal":"c"}}],
         "mark": {"type":"text","fontSize":13,"fontStyle":"italic","align":"left","baseline":"middle","color":"black"},
         "encoding": {"x": {"field":"E","type":"quantitative"}, "y": {"field":"v","type":"quantitative"}, "text": {"field":"t"}}},
        {"data": {"name": "pl"}, "transform": [{"filter": {"field":"p","equal":"c"}}],
         "mark": {"type":"text","fontSize":9,"align":"left","baseline":"middle","dx":64,"dy":3,"color":"black","text":"F"},
         "encoding": {"x": {"field":"E","type":"quantitative"}, "y": {"field":"v","type":"quantitative"}}}
      ]
    }
  ]
}
